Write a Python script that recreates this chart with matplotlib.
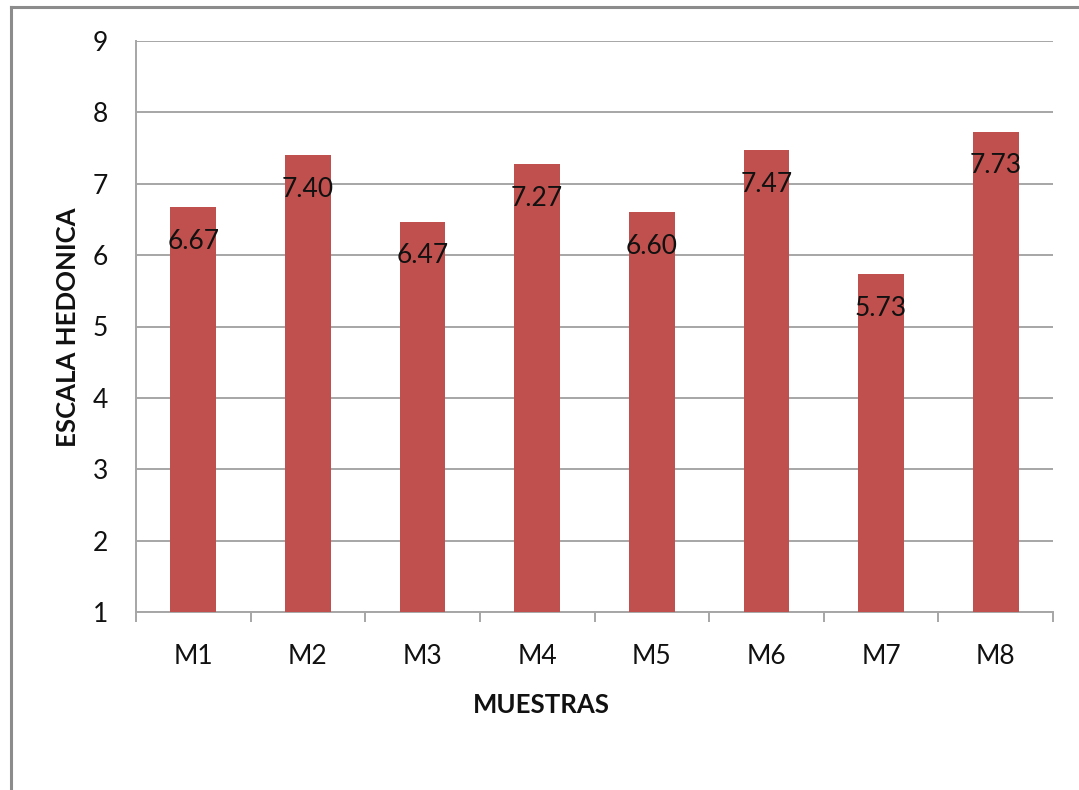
import matplotlib
matplotlib.use("Agg")
import matplotlib.pyplot as plt
from matplotlib.lines import Line2D

# Datos
muestras = ["M1", "M2", "M3", "M4", "M5", "M6", "M7", "M8"]
valores = [6.67, 7.40, 6.47, 7.27, 6.60, 7.47, 5.73, 7.73]
y_ticks = [1, 2, 3, 4, 5, 6, 7, 8, 9]

BAR = "#C0504D"
GRID = "#A6A6A6"

plt.rcParams["font.family"] = ["Lato", "DejaVu Sans"]

W, H = 1079, 790
fig = plt.figure(figsize=(W / 100, H / 100), dpi=100, facecolor="white")
ax = fig.add_axes([136 / W, 1 - 612 / H, (1053 - 136) / W, (612 - 41) / H])

x = list(range(len(muestras)))
ax.bar(x, [v - 1 for v in valores], bottom=1, width=0.40, color=BAR, zorder=3)

for xi, v in zip(x, valores):
    ax.annotate(f"{v:.2f}", (xi, v), xytext=(0, -24.5), textcoords="offset points",
                ha="center", va="center", fontsize=19, color="#111111", zorder=4)

ax.set_xlim(-0.5, len(muestras) - 0.5)
ax.set_ylim(1, 9)
ax.set_yticks(y_ticks)
ax.set_xticks(x)
ax.set_xticklabels(muestras)
ax.set_xticks([i - 0.5 for i in range(len(muestras) + 1)], minor=True)

ax.grid(axis="y", color=GRID, linewidth=1.4, zorder=0)
for s in ["top", "right"]:
    ax.spines[s].set_visible(False)
for s in ["left", "bottom"]:
    ax.spines[s].set_color(GRID)
    ax.spines[s].set_linewidth(1.4)

ax.tick_params(axis="y", length=0, pad=20, labelsize=19, colors="#111111")
ax.tick_params(axis="x", which="major", length=0, pad=23, labelsize=19, colors="#111111")
ax.tick_params(axis="x", which="minor", length=7.5, width=1.4, color=GRID)

fig.text(68 / W, 1 - 327 / H, "ESCALA HEDONICA", rotation=90, ha="center", va="center",
         fontsize=18.5, fontweight="bold", color="#111111")
fig.text(541 / W, 1 - 705 / H, "MUESTRAS", ha="center", va="center",
         fontsize=18.5, fontweight="bold", color="#111111")

# Marco del gráfico
fig.add_artist(Line2D([10.5 / W, 1], [1 - 6.5 / H, 1 - 6.5 / H], color="#8C8C8C", lw=2.2))
fig.add_artist(Line2D([10.5 / W, 10.5 / W], [0, 1 - 6.5 / H], color="#8C8C8C", lw=2.2))

fig.savefig("out.png", dpi=100, facecolor="white")
